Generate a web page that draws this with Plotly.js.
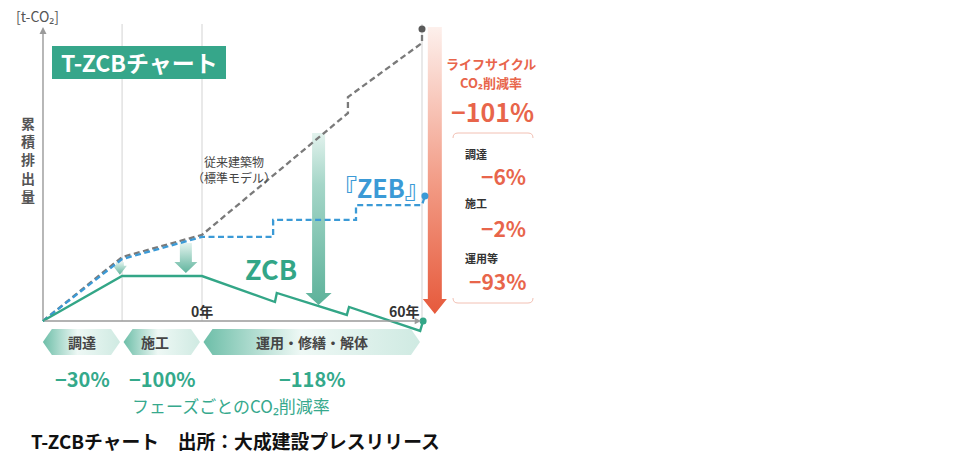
<!DOCTYPE html>
<html><head><meta charset="utf-8">
<script src="https://cdn.plot.ly/plotly-3.0.1.min.js"></script>
<style>html,body{margin:0;padding:0;background:#fff}#c{width:962px;height:456px}</style>
</head><body><div id="c"></div>
<script>
// ---- data (x: years, 0年 = start of operation; y: cumulative emission index, conventional end = 100)
const phaseNames = ['調達', '施工', '運用・修繕・解体'];
const phaseBounds = [-43.4, -21.8, 0, 60];
const phaseCuts = ['−30%', '−100%', '−118%'];

const convX = [-43.4, -21.8, 0, 39.8, 39.8, 60, 60];
const convY = [0, 21.9, 29.5, 71.2, 76.7, 95.2, 100];
const zebX = [-43.4, -21.8, 0, 19.4, 19.4, 42, 42, 60, 60.8];
const zebY = [0, 21.2, 28.8, 28.8, 34.6, 34.6, 39.7, 39.7, 42.8];
const zcbX = [-43.4, -21.8, 0, 19.9, 20.4, 39.5, 40.1, 59.5, 60.3];
const zcbY = [0, 15.4, 15.4, 6.5, 9.6, 2.1, 4.8, -3.4, 0];

const redArrX = [-22.4, -4.4, 31.8];
const redArrTop = [20.2, 26.7, 64.4];
const redArrTip = [15.8, 16.4, 5.5];

const lcLabels = ['調達', '施工', '運用等'];
const lcCuts = ['−6%', '−2%', '−93%'];
const lcTotal = '−101%';

// ---- pixel helpers (layout only)
const PXS = 220 / 60, PYS = 2.92;
const X = px => (px - 202) / PXS;
const Y = py => (321 - py) / PYS;
const pxOf = x => 202 + x * PXS;
const pyOf = y => 321 - y * PYS;

const FONT = '"Noto Sans CJK JP", "Noto Sans", sans-serif';
const TEAL = '#33a687', BLUE = '#3b9ad6', GRAY = '#7a7a7a', RED = '#e8654b';

const traces = [];
const shapes = [];
const annotations = [];

// chevrons
phaseNames.forEach((n, i) => {
  const l = pxOf(phaseBounds[i]) + (i === 0 ? 0 : 1.5);
  const r = pxOf(phaseBounds[i + 1]) - 2;
  const s = 9, t = 329, b = 355, c = 342;
  const pts = [[l, c], [l + s, t], [r - s, t], [r, c], [r - s, b], [l + s, b], [l, c]];
  traces.push({
    x: pts.map(p => X(p[0])), y: pts.map(p => Y(p[1])), mode: 'lines', fill: 'toself',
    line: {width: 0, color: 'rgba(0,0,0,0)'}, hoverinfo: 'skip',
    fillgradient: {type: 'horizontal', colorscale: [[0, '#6dbea8'], [0.45, '#eef8f5'], [1, '#cfeae2']]}
  });
  annotations.push({x: (phaseBounds[i] + phaseBounds[i + 1]) / 2 + (i === 1 ? -2 : 0), y: Y(342), text: n,
    showarrow: false, font: {family: FONT, size: 14, color: '#454545', weight: 'bold'}});
  annotations.push({x: (phaseBounds[i] + phaseBounds[i + 1]) / 2, y: Y(378), text: phaseCuts[i],
    showarrow: false, font: {family: FONT, size: 20, color: '#34a98b', weight: 'bold'}});
});

// arrow polygon helper
function arrow(x, top, tip, sw, hw, hl, cs) {
  const cx = pxOf(x), ty = pyOf(top), py = pyOf(tip);
  const hy = py - hl;
  const pts = [[cx - sw, ty], [cx + sw, ty], [cx + sw, hy], [cx + hw, hy], [cx, py], [cx - hw, hy], [cx - sw, hy], [cx - sw, ty]];
  traces.push({
    x: pts.map(p => X(p[0])), y: pts.map(p => Y(p[1])), mode: 'lines', fill: 'toself',
    line: {width: 0, color: 'rgba(0,0,0,0)'}, hoverinfo: 'skip',
    fillgradient: {type: 'vertical', colorscale: cs}
  });
}
const greenCS = [[0, '#5fb49d'], [1, '#e3f3ee']];
arrow(redArrX[0], redArrTop[0], redArrTip[0], 4, 7, 9, greenCS);
arrow(redArrX[1], redArrTop[1], redArrTip[1], 6, 11.5, 11, greenCS);
arrow(redArrX[2], redArrTop[2], redArrTip[2], 6.5, 13, 12, [[0, '#5db29a'], [0.7, '#a5d6c8'], [1, '#e2f2ed']]);
// lifecycle total arrow
arrow(63.5, 100.7, 2.4, 7, 12, 15, [[0, '#e65a3c'], [0.45, '#f29a84'], [1, '#fdf0ec']]);

// lines
traces.push({x: convX, y: convY, mode: 'lines', line: {color: GRAY, width: 2.3, dash: '6px,3.5px'}, hoverinfo: 'skip'});
traces.push({x: zebX, y: zebY, mode: 'lines', line: {color: BLUE, width: 2.3, dash: '6px,3.5px'}, hoverinfo: 'skip'});
traces.push({x: zcbX, y: zcbY, mode: 'lines', line: {color: TEAL, width: 2.4}, hoverinfo: 'skip'});
// end dots
traces.push({x: [convX[convX.length - 1], zebX[zebX.length - 1], zcbX[zcbX.length - 1]],
  y: [convY[convY.length - 1], zebY[zebY.length - 1], zcbY[zcbY.length - 1]],
  mode: 'markers', marker: {size: 7, color: ['#5a5a5a', BLUE, TEAL]}, hoverinfo: 'skip'});

// gridlines
[phaseBounds[1], phaseBounds[2], phaseBounds[3]].forEach(x => {
  shapes.push({type: 'line', layer: 'below', x0: x, x1: x, y0: Y(24), y1: 0, line: {color: '#d3d3d3', width: 1}});
});
// title box
shapes.push({type: 'rect', layer: 'below', x0: X(52), x1: X(226), y0: Y(46), y1: Y(79), fillcolor: '#36a68a', line: {width: 0}});
// bracket
const bL = 453, bR = 533;
shapes.push({type: 'path', path: `M${X(bL)},${Y(138)} Q${X(bL)},${Y(133)} ${X(bL + 5)},${Y(133)} L${X(bR - 5)},${Y(133)} Q${X(bR)},${Y(133)} ${X(bR)},${Y(138)}`, line: {color: '#f2c0b3', width: 1}});
shapes.push({type: 'path', path: `M${X(bL)},${Y(298)} Q${X(bL)},${Y(303)} ${X(bL + 5)},${Y(303)} L${X(bR - 5)},${Y(303)} Q${X(bR)},${Y(303)} ${X(bR)},${Y(298)}`, line: {color: '#f2c0b3', width: 1}});

// axes with arrows
annotations.push({x: X(43), y: Y(27), ax: X(43), ay: 0, axref: 'x', ayref: 'y', text: '', showarrow: true,
  arrowhead: 2, arrowsize: 1, arrowwidth: 1.4, arrowcolor: '#9a9a9a'});
annotations.push({x: X(421), y: 0, ax: X(43), ay: 0, axref: 'x', ayref: 'y', text: '', showarrow: true,
  arrowhead: 2, arrowsize: 0.9, arrowwidth: 1.4, arrowcolor: '#9a9a9a'});

function txt(px, py, text, size, color, weight, xanchor) {
  annotations.push({x: X(px), y: Y(py), text: text, showarrow: false, xanchor: xanchor || 'center', yanchor: 'middle',
    align: xanchor || 'center', font: {family: FONT, size: size, color: color, weight: weight || 'normal'}});
}
txt(14, 16, '[t-CO₂]', 14, '#555', 'normal', 'left');
txt(28, 159, '累<br>積<br>排<br>出<br>量', 14, '#555', 'bold');
txt(139, 62, 'T-ZCBチャート', 23, '#ffffff', 'bold');
txt(190, 169, '\u3000従来建築物<br>（標準モデル）', 12, '#444', 'normal', 'left');
txt(381, 187, '『ZEB』', 25, BLUE, 'bold');
txt(271, 268, 'ZCB', 27, TEAL, 'bold');
txt(202, 311, '0年', 14, '#333', 'bold');
txt(422, 311, '60年', 14, '#333', 'bold', 'right');

txt(491, 63, 'ライフサイクル', 13, RED, 'bold');
txt(491, 82, 'CO₂削減率', 13, RED, 'bold');
txt(492, 111, lcTotal, 25, RED, 'bold');
const lcLabY = [154, 203, 258], lcValY = [176, 228, 281];
lcLabels.forEach((l, i) => {
  txt(463, lcLabY[i], l, 11, '#333', 'bold', 'left');
  txt(528, lcValY[i], lcCuts[i], 21, RED, 'bold', 'right');
});

txt(231, 405, 'フェーズごとのCO₂削減率', 17, '#36a98d', 'normal');
txt(29, 440, 'T-ZCBチャート　出所：大成建設プレスリリース', 18.8, '#111', 'bold', 'left');

Plotly.newPlot('c', traces, {
  width: 962, height: 456, margin: {l: 0, r: 0, t: 0, b: 0},
  paper_bgcolor: '#fff', plot_bgcolor: '#fff', showlegend: false,
  xaxis: {range: [X(0), X(962)], visible: false, fixedrange: true},
  yaxis: {range: [Y(456), Y(0)], visible: false, fixedrange: true},
  shapes: shapes, annotations: annotations
}, {staticPlot: true});
</script></body></html>
